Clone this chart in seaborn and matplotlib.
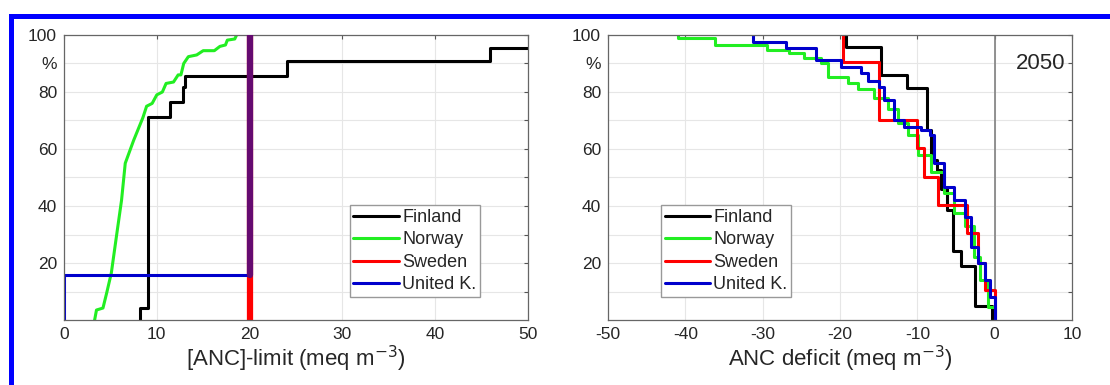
import matplotlib
matplotlib.use("Agg")
import matplotlib.pyplot as plt
from matplotlib.patches import Rectangle
from matplotlib.lines import Line2D
import seaborn as sns

# ---- data ----
countries = ["Finland", "Norway", "Sweden", "United K."]
colors = {"Finland": "#000000", "Norway": "#22ee22", "Sweden": "#ff0000", "United K.": "#0000cc"}

# left panel: cumulative % of lakes vs [ANC]-limit (step curves, steps-post)
fin_lim_x = [8.2, 8.2, 9.05, 11.4, 12.8, 13.0, 24.0, 45.9, 50.0]
fin_lim_y = [0.0, 4.2, 71.2, 76.5, 81.8, 85.6, 91.0, 95.3, 95.3]
# Norway is drawn as a jagged polyline (vertices)
nor_lim_x = [3.3, 3.5, 4.2, 4.6, 5.1, 5.7, 6.2, 6.6, 7.5, 8.5, 8.9, 9.5, 10.0, 10.6, 11.0, 11.8,
             12.3, 12.6, 12.9, 13.4, 14.3, 15.0, 16.2, 16.8, 17.4, 17.6, 18.4, 18.6]
nor_lim_y = [0.0, 3.5, 4.2, 9.5, 16.5, 30.5, 42.0, 55.0, 63.0, 71.0, 75.0, 76.0, 79.0, 80.0, 83.0, 83.5,
             86.0, 86.0, 90.0, 92.4, 93.0, 94.5, 94.5, 96.0, 96.5, 98.2, 98.6, 100.0]
swe_lim_x = [20.0, 20.0]
swe_lim_y = [0.0, 100.0]
uk_lim_x = [0.0, 0.0, 20.0, 20.0]
uk_lim_y = [0.0, 15.8, 15.8, 100.0]

# right panel: cumulative % of lakes vs ANC deficit (2050), steps-post
fin_def_x = [-19.2, -19.2, -14.7, -11.4, -8.8, -8.2, -7.5, -6.9, -6.2, -5.4, -4.4, -2.5, -0.4]
fin_def_y = [100.0, 95.8, 86.0, 81.4, 66.7, 56.0, 52.6, 46.0, 38.6, 24.3, 19.0, 5.0, 0.0]
nor_def_x = [-41.0, -41.0, -36.1, -29.4, -26.6, -24.7, -22.5, -21.6, -19.0, -17.7, -15.6, -13.8, -12.5, -11.2,
             -9.9, -8.2, -6.5, -5.2, -3.9, -2.7, -1.9, -0.8, 0.0]
nor_def_y = [100.0, 98.8, 96.5, 94.7, 93.7, 91.9, 90.2, 85.3, 83.0, 81.0, 78.0, 74.0, 69.0, 65.0,
             58.0, 52.0, 44.6, 37.5, 33.0, 22.0, 14.0, 4.6, 0.0]
swe_def_x = [-19.6, -19.6, -14.9, -10.1, -9.2, -7.3, -3.6, -2.1, -1.3, 0.0]
swe_def_y = [100.0, 90.5, 70.2, 60.4, 50.2, 40.4, 30.5, 20.0, 10.5, 0.0]
uk_def_x = [-31.2, -31.2, -27.0, -23.1, -19.9, -17.3, -16.4, -14.9, -14.3, -13.0, -11.7, -9.5, -8.4,
            -7.9, -6.5, -5.2, -3.9, -3.0, -2.1, -1.3, -0.6, 0.0]
uk_def_y = [100.0, 97.5, 95.4, 91.2, 88.8, 86.7, 84.0, 81.8, 77.2, 70.0, 67.7, 66.7, 64.9,
            55.0, 46.7, 42.0, 36.0, 25.6, 20.0, 14.0, 8.0, 0.0]

ytick_vals = [10, 20, 30, 40, 50, 60, 70, 80, 90, 100]
ytick_labels = ["", "20", "", "40", "", "60", "", "80", "%", "100"]

sns.set_style("white")
plt.rcParams["font.family"] = ["Liberation Sans", "DejaVu Sans"]
plt.rcParams["axes.unicode_minus"] = False

fig = plt.figure(figsize=(11.1, 3.85), dpi=100)
ax1 = fig.add_axes([64 / 1110, 65 / 385, 464 / 1110, 285 / 385])
ax2 = fig.add_axes([608 / 1110, 65 / 385, 464 / 1110, 285 / 385])

# blue frame around the figure (cropped on right/bottom)
fig.patches.append(Rectangle((10.5 / 1110, -0.5), 2.0, (385 - 15.5) / 385 + 0.5,
                             transform=fig.transFigure, fill=False,
                             edgecolor="#0000ff", lw=3.6, zorder=10))

lw = 2.2

def step(ax, x, y, c, width=lw, z=2, ds="steps-post"):
    sns.lineplot(x=x, y=y, ax=ax, color=c, lw=width, drawstyle=ds,
                 sort=False, estimator=None, zorder=z, legend=False)

# left panel
step(ax1, fin_lim_x, fin_lim_y, colors["Finland"])
step(ax1, nor_lim_x, nor_lim_y, colors["Norway"], ds="default")
step(ax1, swe_lim_x, swe_lim_y, colors["Sweden"], width=4.5)
step(ax1, uk_lim_x, uk_lim_y, colors["United K."])
# Sweden and UK overlap at the limit -> purple
step(ax1, [swe_lim_x[0], swe_lim_x[0]], [uk_lim_y[1], 100.0], "#650a70", width=4.5, z=3)

# right panel
ax2.axvline(0, color="#808080", lw=1.2, zorder=1)
step(ax2, fin_def_x, fin_def_y, colors["Finland"])
step(ax2, nor_def_x, nor_def_y, colors["Norway"])
step(ax2, swe_def_x, swe_def_y, colors["Sweden"])
step(ax2, uk_def_x, uk_def_y, colors["United K."])
ax2.text(6.0, 90, "2050", fontsize=16, ha="center", va="center")

for ax, xlim, xlab in [(ax1, (0, 50), "[ANC]-limit (meq m$^{-3}$)"),
                       (ax2, (-50, 10), "ANC deficit (meq m$^{-3}$)")]:
    ax.set_xlim(*xlim)
    ax.set_ylim(0, 100)
    ax.set_xticks(range(xlim[0], xlim[1] + 1, 10))
    ax.set_yticks(ytick_vals)
    ax.set_yticklabels(ytick_labels)
    ax.grid(True, color="#e6e6e6", lw=0.8)
    ax.set_axisbelow(True)
    ax.tick_params(direction="in", length=3, width=0.8, color="#555555",
                   top=True, right=True, labelsize=12.5, pad=5)
    for s in ax.spines.values():
        s.set_color("#666666")
        s.set_linewidth(0.9)
    ax.set_xlabel(xlab, fontsize=16, labelpad=1)
    ax.set_ylabel("")
    handles = [Line2D([], [], color=colors[c], lw=lw) for c in countries]
    anchor = (0.616, 0.081) if ax is ax1 else (0.114, 0.081)
    ax.legend(handles, countries, loc="lower left", bbox_to_anchor=anchor,
              fontsize=13, frameon=True, fancybox=False, framealpha=1,
              edgecolor="#999999", handlelength=2.5, handletextpad=0.2,
              labelspacing=0.3, borderpad=0.2, borderaxespad=0)

fig.savefig("out.png", dpi=100)
